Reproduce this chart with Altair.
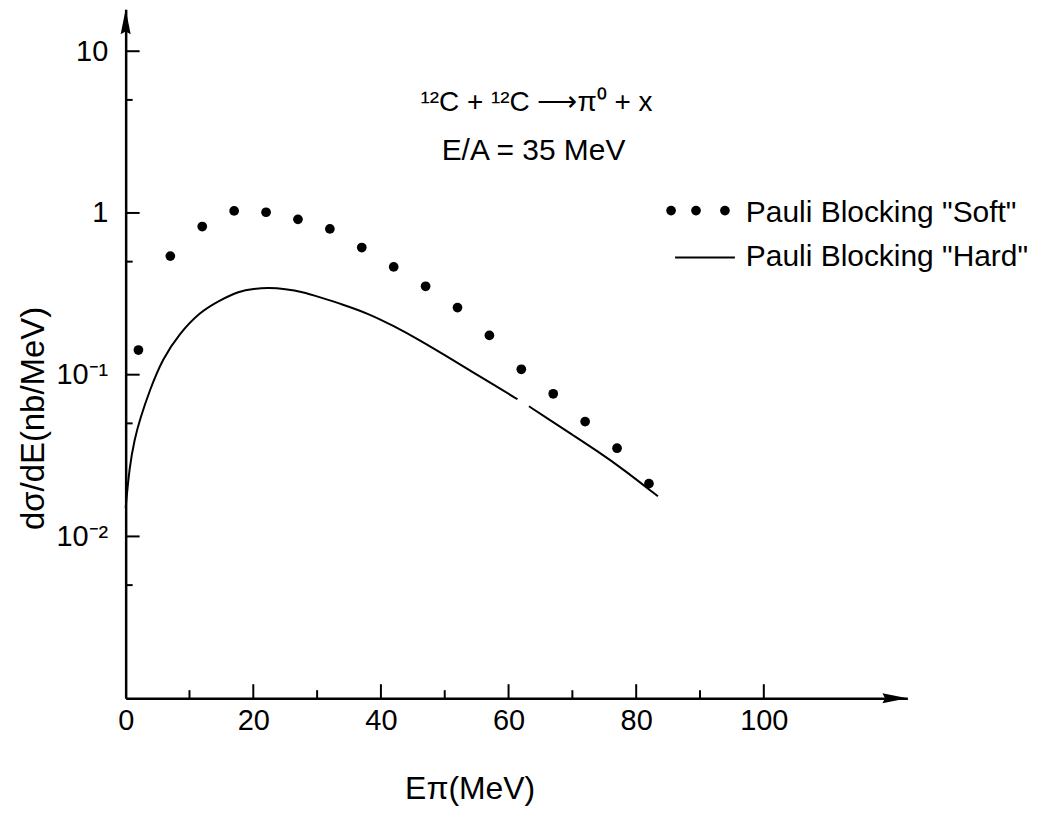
import altair as alt
import pandas as pd

# ---- data ----
soft_E = [2, 7, 12, 17, 22, 27, 32, 37, 42, 47, 52, 57, 62, 67, 72, 77, 82]
soft_val = [0.142, 0.541, 0.824, 1.03, 1.01, 0.913, 0.797, 0.611, 0.464,
            0.352, 0.260, 0.175, 0.108, 0.0762, 0.0513, 0.0351, 0.0212]

hard_E = [0, 0.6, 1.4, 2.2, 3.75, 5.8, 8.4, 11.6, 14.7, 17.8, 20, 22.5, 25,
          27.7, 30.3, 34, 38, 42, 46, 50, 54, 58, 61.4,
          63.2, 66, 70, 74, 78, 83.4]
hard_val = [0.015, 0.0271, 0.040, 0.0525, 0.080, 0.126, 0.179, 0.244, 0.288,
            0.329, 0.340, 0.345, 0.338, 0.325, 0.302, 0.272, 0.239, 0.2,
            0.164, 0.132, 0.106, 0.085, 0.0705,
            0.0638, 0.054, 0.0425, 0.0335, 0.026, 0.0177]
hard_seg = ["a"] * 23 + ["b"] * 6

x_label_values = [0, 20, 40, 60, 80, 100]
x_ticks_major = [20, 40, 60, 80, 100]
x_ticks_minor = [10, 30, 50, 70, 90]
y_label_values = [10, 1, 0.1, 0.01]
y_ticks_major = [10, 1, 0.1, 0.01]
y_ticks_minor = [5, 0.5, 0.05, 0.005]

X_MAX = 122.5
Y_MIN, Y_MAX = 0.001, 18.2

W, H = 784, 691
FONT = "Liberation Sans"

xs = alt.Scale(domain=[0, X_MAX], nice=False, zero=False)
ys = alt.Scale(type="log", domain=[Y_MIN, Y_MAX], nice=False)

soft_df = pd.DataFrame({"E": soft_E, "v": soft_val})
hard_df = pd.DataFrame({"E": hard_E, "v": hard_val, "seg": hard_seg})
one = pd.DataFrame({"a": [0]})

x_axis = alt.Axis(values=x_label_values, ticks=False, grid=False,
                  domainWidth=2.5, domainColor="black",
                  labelFont=FONT, labelFontSize=29, labelColor="black",
                  labelPadding=8, labelFlush=False,
                  title="Eπ(MeV)", titleFont=FONT, titleFontSize=32,
                  titleFontWeight="normal", titleColor="black",
                  titleX=345, titleY=91, titleAlign="center",
                  titleBaseline="middle")
y_axis = alt.Axis(values=y_label_values, ticks=False, grid=False,
                  domainWidth=2.5, domainColor="black",
                  labelFont=FONT, labelFontSize=29, labelColor="black",
                  labelPadding=18, labelFlush=False,
                  labelExpr="datum.value >= 5 ? '10' : datum.value >= 0.5 ? '1' : datum.value >= 0.05 ? '10⁻¹' : '10⁻²'",
                  title="dσ/dE(nb/MeV)", titleFont=FONT, titleFontSize=33,
                  titleFontWeight="normal", titleColor="black",
                  titleAngle=270, titleX=-92, titleY=410,
                  titleAlign="center", titleBaseline="middle")


def X(field):
    return alt.X(field, scale=xs, axis=x_axis)


def Y(field):
    return alt.Y(field, scale=ys, axis=y_axis)


dots = alt.Chart(soft_df).mark_circle(size=95, color="black", opacity=1).encode(
    x=X("E:Q"), y=Y("v:Q"),
)

curve = alt.Chart(hard_df).mark_line(color="black", strokeWidth=2,
                                     interpolate="basis").encode(
    x=X("E:Q"), y=Y("v:Q"), detail="seg:N",
)

# inward ticks
xt_major = alt.Chart(pd.DataFrame({"t": x_ticks_major})).mark_rule(
    color="black", strokeWidth=2).encode(
    x=X("t:Q"), y=alt.value(H), y2=alt.value(H - 14))
xt_minor = alt.Chart(pd.DataFrame({"t": x_ticks_minor})).mark_rule(
    color="black", strokeWidth=2).encode(
    x=X("t:Q"), y=alt.value(H), y2=alt.value(H - 8))
yt_major = alt.Chart(pd.DataFrame({"t": y_ticks_major})).mark_rule(
    color="black", strokeWidth=2).encode(
    y=Y("t:Q"), x=alt.value(0), x2=alt.value(14))
yt_minor = alt.Chart(pd.DataFrame({"t": y_ticks_minor})).mark_rule(
    color="black", strokeWidth=2).encode(
    y=Y("t:Q"), x=alt.value(0), x2=alt.value(7))

# arrow heads at the axis ends
arrow_up = alt.Chart(one).mark_point(
    shape="M0,-1L0.36,0.79L0,0.6L-0.36,0.79Z", size=784, filled=True,
    color="black", opacity=1, yOffset=14).encode(x=alt.value(0), y=alt.value(0))
arrow_right = alt.Chart(one).mark_point(
    shape="M1,0L-0.79,0.36L-0.6,0L-0.79,-0.36Z", size=784, filled=True,
    color="black", opacity=1, xOffset=-14).encode(x=alt.value(W), y=alt.value(H))

# annotation
ann1 = alt.Chart(one).mark_text(font=FONT, fontSize=28, color="black",
                                align="center", baseline="middle").encode(
    x=alt.value(412), y=alt.value(94), text=alt.value("¹²C + ¹²C ⟶π⁰ + x"))
ann2 = alt.Chart(one).mark_text(font=FONT, fontSize=30, color="black",
                                align="center", baseline="middle").encode(
    x=alt.value(409), y=alt.value(142), text=alt.value("E/A = 35 MeV"))


# legend
def legend_dot(px):
    return alt.Chart(one).mark_circle(size=95, color="black", opacity=1).encode(
        x=alt.value(px), y=alt.value(202))


leg_line = alt.Chart(one).mark_rule(color="black", strokeWidth=2).encode(
    x=alt.value(551), x2=alt.value(611), y=alt.value(249))
leg_t1 = alt.Chart(one).mark_text(font=FONT, fontSize=30, color="black",
                                  align="left", baseline="middle").encode(
    x=alt.value(622), y=alt.value(204), text=alt.value('Pauli Blocking "Soft"'))
leg_t2 = alt.Chart(one).mark_text(font=FONT, fontSize=30, color="black",
                                  align="left", baseline="middle").encode(
    x=alt.value(622), y=alt.value(249), text=alt.value('Pauli Blocking "Hard"'))

chart = alt.layer(
    dots, curve, xt_major, xt_minor, yt_major, yt_minor,
    arrow_up, arrow_right, ann1, ann2,
    legend_dot(547), legend_dot(572), legend_dot(601),
    leg_line, leg_t1, leg_t2,
).properties(
    width=W, height=H,
    autosize=alt.AutoSizeParams(type="none"),
    padding={"left": 118, "top": 0, "right": 140, "bottom": 110},
    background="white",
).configure_view(stroke=None)

chart.save("out.html", embed_options={"renderer": "svg", "actions": False})
